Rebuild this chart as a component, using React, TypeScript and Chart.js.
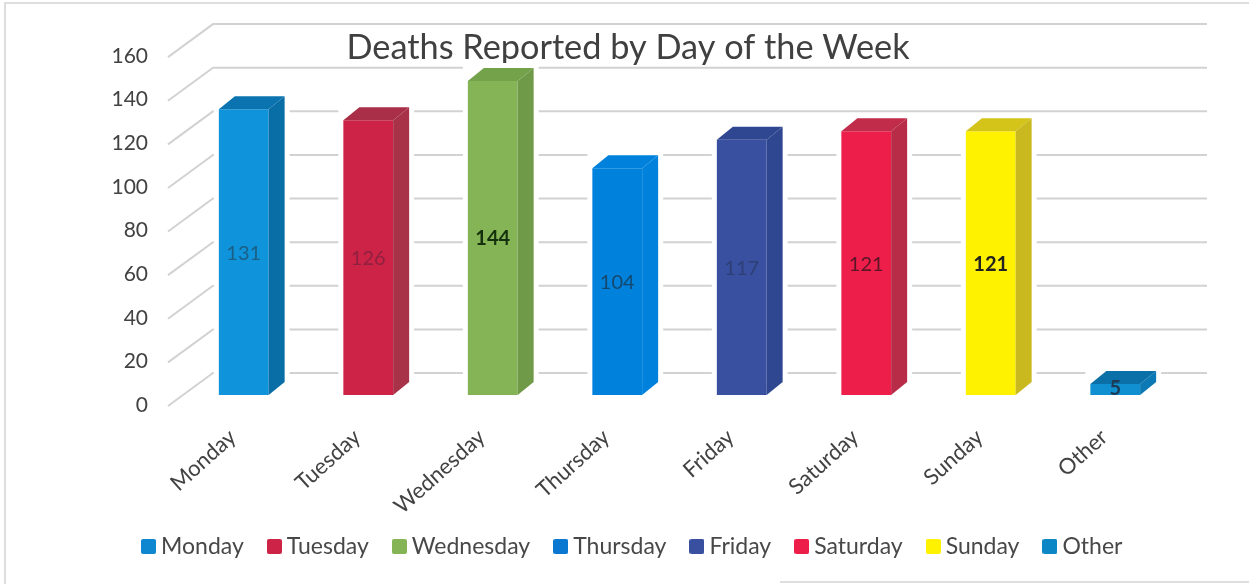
import React, { useEffect, useRef } from "react";
import { Chart, registerables } from "chart.js";

Chart.register(...registerables);

const categories = ["Monday", "Tuesday", "Wednesday", "Thursday", "Friday", "Saturday", "Sunday", "Other"];
const deaths = [131, 126, 144, 104, 117, 121, 121, 5];
const frontColors = ["#0f94dc", "#cc2347", "#84b455", "#0082dc", "#38509f", "#ee1e4b", "#fff200", "#1090d0"];
const sideColors = ["#0a6ea6", "#a83247", "#6f9a48", "#0082dc", "#2f4690", "#b82c48", "#c9b81e", "#0c78b4"];
const topColors = ["#0b74b0", "#a92f48", "#74a24b", "#0082dc", "#2f4690", "#c02c4a", "#d4c41a", "#0b6fa8"];
const labelColors = ["#1b5f85", "#8f2040", "#14300c", "#14486f", "#2e3f75", "#5a1526", "#222222", "#1d3a55"];
const legendColors = ["#0f86d0", "#cc2347", "#84b455", "#0a78d0", "#38509f", "#ee1e4b", "#fff200", "#0c86c4"];
const titleText = "Deaths Reported by Day of the Week";

const FONT = "Lato, 'Noto Sans', sans-serif";
const DX = 16;
const DY = 13;

function legendSwatch(color: string) {
  const c = document.createElement("canvas");
  c.width = 15;
  c.height = 15;
  const g = c.getContext("2d")!;
  g.fillStyle = color;
  g.beginPath();
  g.roundRect(0, 0, 15, 15, 2);
  g.fill();
  return c;
}

const threeD = {
  id: "threeD",
  afterLayout(chart: any) {
    const t = chart.titleBlock;
    t.left = 0;
    t.right = 1256;
    const l = chart.legend;
    l.left = 21;
    l.right = 1249;
    const h = l.bottom - l.top;
    l.top = 505.5;
    l.bottom = 505.5 + h;
  },
  beforeDraw(chart: any) {
    const { ctx } = chart;
    ctx.save();
    ctx.strokeStyle = "#dedede";
    ctx.lineWidth = 2;
    ctx.beginPath();
    ctx.moveTo(5, 584);
    ctx.lineTo(5, 3);
    ctx.lineTo(1249, 3);
    ctx.moveTo(780, 582);
    ctx.lineTo(1249, 582);
    ctx.stroke();
    ctx.restore();
  },
  beforeDatasetsDraw(chart: any) {
    const { ctx, chartArea, scales } = chart;
    const y = scales.y;
    ctx.save();
    ctx.strokeStyle = "#d2d2d2";
    ctx.lineWidth = 2;
    y.ticks.forEach((tick: any) => {
      const p = y.getPixelForValue(tick.value);
      ctx.beginPath();
      ctx.moveTo(chartArea.left - 13.5, p + 11);
      ctx.lineTo(chartArea.left + 31.5, p - 22);
      ctx.lineTo(chartArea.right + 29.5, p - 22);
      ctx.stroke();
    });
    const meta = chart.getDatasetMeta(0);
    ctx.fillStyle = "#ffffff";
    meta.data.forEach((bar: any) => {
      const x0 = bar.x - bar.width / 2;
      ctx.fillRect(x0 - 5, bar.y - DY - 5, bar.width + DX + 10, bar.base - bar.y + DY + 10);
    });
    ctx.restore();
  },
  afterDatasetsDraw(chart: any) {
    const { ctx } = chart;
    const meta = chart.getDatasetMeta(0);
    ctx.save();
    meta.data.forEach((bar: any, i: number) => {
      const x0 = bar.x - bar.width / 2;
      const x1 = bar.x + bar.width / 2;
      ctx.fillStyle = topColors[i];
      ctx.beginPath();
      ctx.moveTo(x0, bar.y);
      ctx.lineTo(x0 + DX, bar.y - DY);
      ctx.lineTo(x1 + DX, bar.y - DY);
      ctx.lineTo(x1, bar.y);
      ctx.closePath();
      ctx.fill();
      ctx.fillStyle = sideColors[i];
      ctx.beginPath();
      ctx.moveTo(x1, bar.y);
      ctx.lineTo(x1 + DX, bar.y - DY);
      ctx.lineTo(x1 + DX, bar.base - DY);
      ctx.lineTo(x1, bar.base);
      ctx.closePath();
      ctx.fill();
    });
    ctx.textAlign = "center";
    ctx.textBaseline = "middle";
    meta.data.forEach((bar: any, i: number) => {
      const isBold = i === 2 || i === 6 || i === 7;
      const shift = bar.base - bar.y > 50 ? 1 : -1;
      ctx.fillStyle = labelColors[i];
      ctx.font = `${isBold ? "bold " : ""}20px ${FONT}`;
      ctx.fillText(String(deaths[i]), bar.x, (bar.y + bar.base) / 2 + shift);
    });
    ctx.restore();
  },
};

export default function App() {
  const ref = useRef<HTMLCanvasElement>(null);
  useEffect(() => {
    document.body.style.margin = "0";
    const chart = new Chart(ref.current!, {
      type: "bar",
      data: {
        labels: categories,
        datasets: [
          {
            label: "Deaths",
            data: deaths,
            backgroundColor: frontColors,
            barPercentage: 0.5,
            categoryPercentage: 0.8,
          },
        ],
      },
      plugins: [threeD],
      options: {
        responsive: false,
        animation: false,
        layout: { padding: { left: 0, right: 71.5, top: 0, bottom: 0 } },
        scales: {
          x: {
            grid: { display: false },
            border: { display: false },
            afterFit(scale: any) {
              scale.height = 584 - 395 - scale.chart.legend.height;
            },
            ticks: {
              autoSkip: false,
              minRotation: 42,
              maxRotation: 42,
              padding: 21,
              labelOffset: -11,
              color: "#424242",
              font: { family: FONT, size: 22 },
            },
          },
          y: {
            min: 0,
            max: 160,
            afterFit(scale: any) {
              scale.width = 181.5;
            },
            grid: { display: false, drawTicks: false },
            border: { display: false },
            ticks: {
              stepSize: 20,
              padding: 33.5,
              labelOffset: 10,
              color: "#424242",
              font: { family: FONT, size: 21 },
            },
          },
        },
        plugins: {
          tooltip: { enabled: false },
          title: {
            display: true,
            text: titleText,
            color: "#404040",
            font: { family: FONT, size: 34.3, weight: "normal" },
            padding: { top: 26, bottom: -22 },
          },
          legend: {
            display: true,
            position: "bottom",
            labels: {
              color: "#484848",
              font: { family: FONT, size: 23 },
              usePointStyle: true,
              pointStyleWidth: 2,
              padding: 29.5,
              generateLabels: () =>
                categories.map((c, i) => ({
                  text: c,
                  fontColor: "#484848",
                  fillStyle: legendColors[i],
                  strokeStyle: legendColors[i],
                  lineWidth: 0,
                  pointStyle: legendSwatch(legendColors[i]),
                  index: i,
                })),
            },
          },
        },
      },
    } as any);
    return () => chart.destroy();
  }, []);
  return (
    <div style={{ position: "relative", width: 1249, height: 584 }}>
      <canvas ref={ref} width={1249} height={584} style={{ display: "block", filter: "blur(0.5px)" }} />
    </div>
  );
}
